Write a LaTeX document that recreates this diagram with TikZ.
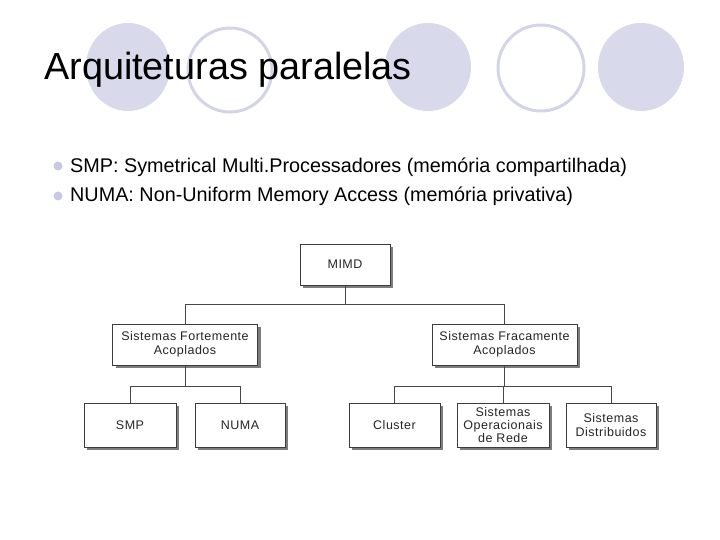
\documentclass[tikz,border=0pt]{standalone}
\usepackage{fontspec}
\setmainfont{Liberation Sans}
\newfontfamily\boxfont[LetterSpace=4]{Liberation Sans}
\usetikzlibrary{shadows}
\definecolor{lav}{RGB}{217,217,236}
\definecolor{lavline}{RGB}{212,212,232}
\definecolor{bul}{RGB}{200,200,226}
\definecolor{boxline}{RGB}{60,60,60}
\definecolor{shade}{RGB}{125,125,125}
\definecolor{conn}{RGB}{70,70,70}
\tikzset{
  deco/.style={fill=lav, draw=none},
  decoring/.style={draw=lavline, line width=3pt, fill=white},
  bulletdot/.style={circle, fill=bul, inner sep=0pt, minimum size=9pt},
  titletext/.style={anchor=base west, inner sep=0pt, font=\fontsize{37.8}{40}\selectfont},
  itemtext/.style={anchor=base west, inner sep=0pt, font=\fontsize{19.8}{22}\selectfont},
  orgbox/.style={draw=boxline, line width=0.8pt, fill=white, inner sep=1pt, align=center,
    text=black!85, font=\boxfont\fontsize{12.5}{14}\selectfont,
    drop shadow={shadow xshift=3pt, shadow yshift=-3pt, fill=shade, opacity=1}},
  wire/.style={draw=conn, line width=0.9pt},
}
\begin{document}
\begin{tikzpicture}[x=1pt,y=-1pt]
\useasboundingbox (0,0) rectangle (720,540);
% decorative circles
\fill[deco] (128,67) ellipse [x radius=42, y radius=44];
\draw[decoring] (230,70) ellipse [x radius=42, y radius=42];
\fill[deco] (428,67) ellipse [x radius=43, y radius=44];
\draw[decoring] (541,68) ellipse [x radius=43, y radius=43];
\fill[deco] (641,67) ellipse [x radius=43, y radius=44];
% title
\node[titletext] (title) at (44,80) {Arquiteturas paralelas};
% bullets
\node[bulletdot] (b1) at (58,166) {};
\node[bulletdot] (b2) at (58,196) {};
\node[itemtext] (t1) at (70,173) {SMP: Symetrical Multi.Processadores (memória compartilhada)};
\node[itemtext] (t2) at (70,202) {NUMA: Non-Uniform Memory Access (memória privativa)};
% org chart
\node[orgbox, minimum width=90pt, minimum height=41pt] (mimd) at (345,264.5) {MIMD};
\node[orgbox, minimum width=145pt, minimum height=41pt] (fort) at (185,344.5) {Sistemas Fortemente\\Acoplados};
\node[orgbox, minimum width=145pt, minimum height=41pt] (frac) at (504.5,344.5) {Sistemas Fracamente\\Acoplados};
\node[orgbox, minimum width=92pt, minimum height=44pt] (smp) at (130,425) {SMP};
\node[orgbox, minimum width=90pt, minimum height=44pt] (numa) at (240,425) {NUMA};
\node[orgbox, minimum width=91pt, minimum height=44pt] (clus) at (394.5,425) {Cluster};
\node[orgbox, minimum width=92pt, minimum height=44pt, font=\boxfont\fontsize{12.5}{12.6}\selectfont] (sor) at (503,425) {Sistemas\\Operacionais\\de Rede};
\node[orgbox, minimum width=90pt, minimum height=44pt] (sdis) at (611,425) {Sistemas\\Distribuidos};
% connectors
\coordinate (bus1) at (0,304);
\coordinate (bus2) at (0,386);
\draw[wire] (mimd.south) -- (mimd.south |- bus1);
\draw[wire] (fort.north) -- (fort.north |- bus1) -- (frac.north |- bus1) -- (frac.north);
\draw[wire] (fort.south) -- (fort.south |- bus2);
\draw[wire] (smp.north) -- (smp.north |- bus2) -- (numa.north |- bus2) -- (numa.north);
\draw[wire] (frac.south) -- (frac.south |- bus2);
\draw[wire] (clus.north) -- (clus.north |- bus2) -- (sdis.north |- bus2) -- (sdis.north);
\draw[wire] (sor.north) -- (sor.north |- bus2);
\end{tikzpicture}
\end{document}
